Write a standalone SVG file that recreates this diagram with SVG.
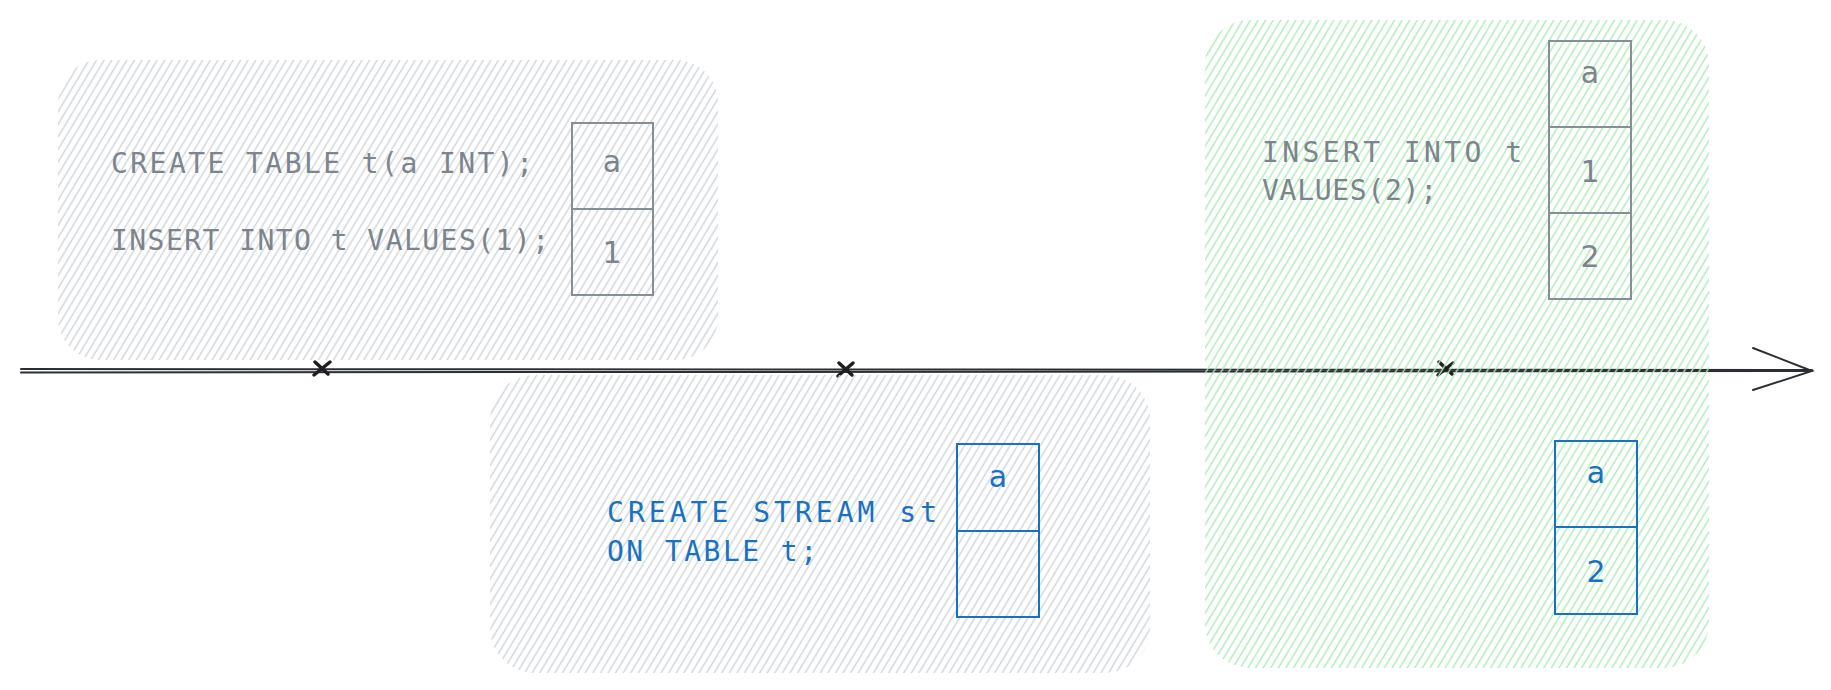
<svg xmlns="http://www.w3.org/2000/svg" width="1831" height="690" viewBox="0 0 1831 690">
  <defs>
    <pattern id="hatchGray" patternUnits="userSpaceOnUse" width="6.5" height="10" patternTransform="rotate(31)">
      <line x1="3.25" y1="0" x2="3.25" y2="10" stroke="#ced4da" stroke-width="1.4"/>
    </pattern>
    <pattern id="hatchGreen" patternUnits="userSpaceOnUse" width="6.5" height="10" patternTransform="rotate(31)">
      <line x1="3.25" y1="0" x2="3.25" y2="10" stroke="#a9ecb4" stroke-width="1.4"/>
    </pattern>
  </defs>
  <style>
    .bg { fill: #ffffff; }
    .txt { font-family: "DejaVu Sans Mono", "Liberation Mono", monospace; font-size: 28px; }
    .cell { font-family: "DejaVu Sans", "Liberation Sans", sans-serif; font-size: 30px; text-anchor: middle; }
    .gray { fill: #7c848c; }
    .blue { fill: #1971c2; }
    .tblGray { fill: none; stroke: #868e96; stroke-width: 2; }
    .tblBlue { fill: none; stroke: #1971c2; stroke-width: 2; }
    .axis { fill: none; stroke: #2b2f33; stroke-width: 2; stroke-linecap: round; }
    .mark { fill: none; stroke: #1e1e1e; stroke-width: 3.5; stroke-linecap: round; }
  </style>
  <rect class="bg" x="0" y="0" width="1831" height="690"/>

  <g id="connectors">
    <line class="axis" x1="21" y1="369" x2="1812" y2="370"/>
    <line class="axis" x1="21" y1="372.5" x2="1812" y2="371" stroke-width="1.5"/>
    <polyline class="axis" points="1753,348 1812,371 1753,390" stroke-width="2.5"/>
    <path class="mark" d="M315,362 L328,374 M314,375 L330,362"/>
    <path class="mark" d="M839,363 L852,375 M838,376 L853,363"/>
    <path class="mark" d="M1439,362 L1452,374 M1438,375 L1453,363"/>
  </g>

  <g id="step1">
    <rect x="58" y="60" width="660" height="300" rx="42" fill="url(#hatchGray)"/>
    <text class="txt gray" x="111" y="173" textLength="422" lengthAdjust="spacing">CREATE TABLE t(a INT);</text>
    <text class="txt gray" x="111" y="250" textLength="438" lengthAdjust="spacing">INSERT INTO t VALUES(1);</text>
    <g id="table1">
      <rect class="tblGray" x="572" y="123" width="81" height="172"/>
      <line class="tblGray" x1="572" y1="209" x2="653" y2="209"/>
      <text class="cell gray" x="612" y="172">a</text>
      <text class="cell gray" x="612" y="263">1</text>
    </g>
  </g>

  <g id="step2">
    <rect x="490" y="375" width="660" height="298" rx="45" fill="url(#hatchGray)"/>
    <text class="txt blue" x="607" y="522" textLength="330" lengthAdjust="spacing">CREATE STREAM st</text>
    <text class="txt blue" x="607" y="561" textLength="210" lengthAdjust="spacing">ON TABLE t;</text>
    <g id="table2">
      <rect class="tblBlue" x="957" y="444" width="82" height="173"/>
      <line class="tblBlue" x1="957" y1="531" x2="1039" y2="531"/>
      <text class="cell blue" x="998" y="487">a</text>
    </g>
  </g>

  <g id="step3">
    <rect x="1205" y="20" width="504" height="648" rx="45" fill="url(#hatchGreen)"/>
    <text class="txt gray" x="1262" y="162" textLength="260" lengthAdjust="spacing">INSERT INTO t</text>
    <text class="txt gray" x="1262" y="200" textLength="175" lengthAdjust="spacing">VALUES(2);</text>
    <g id="table3">
      <rect class="tblGray" x="1549" y="41" width="82" height="258"/>
      <line class="tblGray" x1="1549" y1="127" x2="1631" y2="127"/>
      <line class="tblGray" x1="1549" y1="213" x2="1631" y2="213"/>
      <text class="cell gray" x="1590" y="83">a</text>
      <text class="cell gray" x="1590" y="182">1</text>
      <text class="cell gray" x="1590" y="267">2</text>
    </g>
    <g id="table4">
      <rect class="tblBlue" x="1555" y="441" width="82" height="173"/>
      <line class="tblBlue" x1="1555" y1="527" x2="1637" y2="527"/>
      <text class="cell blue" x="1596" y="483">a</text>
      <text class="cell blue" x="1596" y="582">2</text>
    </g>
  </g>
</svg>
